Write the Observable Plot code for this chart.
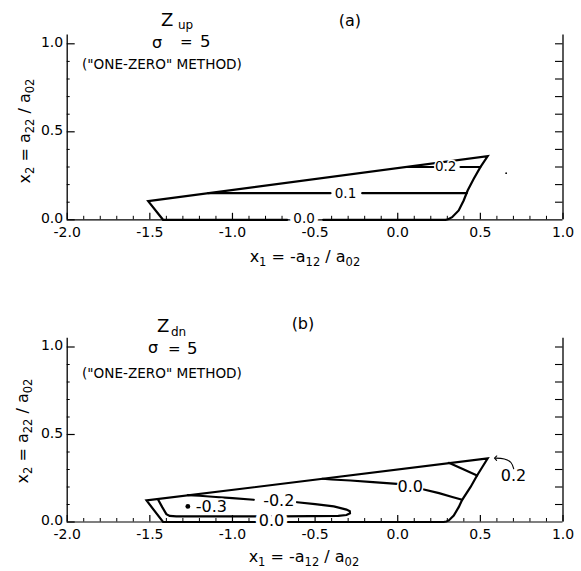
<!DOCTYPE html>
<html><head><meta charset="utf-8">
<script src="https://cdn.jsdelivr.net/npm/d3@7"></script>
<script src="https://cdn.jsdelivr.net/npm/@observablehq/plot@0.6"></script>
<style>
body{margin:0;background:#fff;}
#wrap{position:relative;width:581px;height:571px;overflow:hidden;background:#fff;}
#wrap svg{position:absolute;left:0;overflow:visible;}
</style></head><body><div id="wrap"></div>
<script>
// ---------- axis tick values ----------
const xTickLabels = [-2.0, -1.5, -1.0, -0.5, 0.0, 0.5, 1.0];
const xMinorTicks = [-1.9,-1.8,-1.7,-1.6,-1.4,-1.3,-1.2,-1.1,-0.9,-0.8,-0.7,-0.6,-0.4,-0.3,-0.2,-0.1,0.1,0.2,0.3,0.4,0.6,0.7,0.8,0.9];
const yTickLabels = [0.0, 0.5, 1.0];
const yLeftMinor = [0.1,0.2,0.3,0.4,0.6,0.7,0.8,0.9];
const yRightTicks = [0.1,0.2,0.3,0.4,0.5,0.6,0.7,0.8,0.9,1.0];

// ---------- panel (a): Z_up ----------
const outerA = [[-0.451,0],[0.289,0],[0.305,0.003],[0.329,0.015],[0.369,0.053],[0.399,0.110],[0.423,0.166],[0.460,0.233],[0.500,0.299],[0.544,0.361],[-1.51,0.106],[-1.42,0],[-0.669,0]];
const contourA_01_left = [[-1.147,0.151],[-0.407,0.151]];
const contourA_01_right = [[-0.215,0.151],[0.417,0.151]];
const contourA_02_left = [[0.053,0.300],[0.216,0.300]];
const contourA_02_right = [[0.380,0.300],[0.500,0.300]];
const labelsA = [
  {x:-0.567, y:0.000, text:"0.0"},
  {x:-0.316, y:0.151, text:"0.1"},
  {x: 0.290, y:0.300, text:"0.2"}
];
const specksA = [[0.656,0.265]];

// ---------- panel (b): Z_dn ----------
const outerB = [[-0.68,0],[0.278,0],[0.295,0.003],[0.309,0.009],[0.339,0.037],[0.369,0.085],[0.390,0.127],[0.440,0.199],[0.480,0.266],[0.544,0.363],[-1.52,0.123],[-1.42,0],[-0.86,0]];
const contourB_m02_loop = [[-1.452,0.131],[-1.425,0.085],[-1.40,0.045],[-1.38,0.035],[-1.34,0.032],[-0.70,0.032],[-0.36,0.035],[-0.31,0.040],[-0.289,0.050],[-0.29,0.062],[-0.31,0.071],[-0.387,0.089],[-0.50,0.102],[-0.609,0.113]];
const contourB_m02_upper = [[-0.871,0.127],[-1.0,0.136],[-1.1,0.143],[-1.2,0.150],[-1.27,0.154]];
const contourB_00_left = [[-0.457,0.247],[-0.40,0.243],[-0.286,0.237],[-0.15,0.228],[-0.004,0.218]];
const contourB_00_right = [[0.158,0.186],[0.25,0.165],[0.33,0.143],[0.39,0.127]];
const contourB_02 = [[0.309,0.338],[0.40,0.300],[0.48,0.266]];
const arrowB = [[0.702,0.304],[0.685,0.340],[0.645,0.360],[0.592,0.365]];
const labelsB = [
  {x:-0.764, y:0.000, text:"0.0"},
  {x:-0.720, y:0.119, text:"-0.2"},
  {x:-1.128, y:0.089, text:"-0.3"},
  {x: 0.076, y:0.199, text:"0.0"},
  {x: 0.700, y:0.266, text:"0.2"}
];
const minimumB = [[-1.270,0.089]];

// ---------- layout / annotations ----------
const FONT = "DejaVu Sans";
const fmt = d => (d < 0 ? "-" : "") + Math.abs(d).toFixed(1);

const panels = [
  {
    top: 0, height: 290, marginTop: 34.5, marginBottom: 70.7,
    lines: [outerA, contourA_01_left, contourA_01_right, contourA_02_left, contourA_02_right],
    labels: labelsA, labelSize: 13.5, dots: specksA, dotR: 0.9, arrow: null,
    notes: [
      {x:-1.4295, y:1.0983, parts:[["Z"]], size:18},
      {x:-1.3267, y:1.0813, parts:[["up"]], size:12},
      {x:-0.2862, y:1.1011, parts:[["(a)"]], size:16, anchor:"middle"},
      {x:-1.484, y:0.9733, parts:[["σ"]], size:16},
      {x:-1.3146, y:0.9790, parts:[["="]], size:15},
      {x:-1.1936, y:0.9790, parts:[["5"]], size:16.5},
      {x:-1.9074, y:0.8540, parts:[["(\"ONE-ZERO\" METHOD)"]], size:13.6},
      {x:-2.222, y:0.5017, rotate:true, anchor:"middle", size:16, parts:[["x"],["2",1],[" = a"],["22",1],[" / a"],["02",1]]},
      {x:-0.5584, y:-0.2426, anchor:"middle", size:16, parts:[["x"],["1",1],[" = -a"],["12",1],[" / a"],["02",1]]}
    ]
  },
  {
    top: 295, height: 276, marginTop: 42.75, marginBottom: 49.5,
    lines: [outerB, contourB_m02_loop, contourB_m02_upper, contourB_00_left, contourB_00_right, contourB_02],
    labels: labelsB, labelSize: 16, dots: minimumB, dotR: 2.4, arrow: arrowB,
    notes: [
      {x:-1.4537, y:1.0829, parts:[["Z"]], size:18},
      {x:-1.369, y:1.0600, parts:[["dn"]], size:12},
      {x:-0.5705, y:1.100, parts:[["(b)"]], size:16, anchor:"middle"},
      {x:-1.5082, y:0.9629, parts:[["σ"]], size:16},
      {x:-1.3872, y:0.9571, parts:[["="]], size:15},
      {x:-1.2722, y:0.9571, parts:[["5"]], size:16.5},
      {x:-1.9074, y:0.820, parts:[["(\"ONE-ZERO\" METHOD)"]], size:13.6},
      {x:-2.234, y:0.5171, rotate:true, anchor:"middle", size:16, parts:[["x"],["2",1],[" = a"],["22",1],[" / a"],["02",1]]},
      {x:-0.5644, y:-0.2314, anchor:"middle", size:16, parts:[["x"],["1",1],[" = -a"],["12",1],[" / a"],["02",1]]}
    ]
  }
];

const ML = 66.7, MR = 18.5, WIDTH = 581;
const wrap = document.getElementById("wrap");

for (const p of panels) {
  const H = p.height - p.marginTop - p.marginBottom;
  const W = WIDTH - ML - MR;
  const marks = [
    Plot.ruleX([-2, 1], {strokeWidth: 1.3}),
    Plot.ruleY([0], {strokeWidth: 1.2}),
    Plot.tickX(xMinorTicks, {x: d => d, insetTop: H - 3.5, strokeWidth: 1}),
    Plot.tickX(xTickLabels, {x: d => d, insetTop: H - 6.5, strokeWidth: 1.2}),
    Plot.tickY(yRightTicks, {y: d => d, insetLeft: W - 7.5, strokeWidth: 1.1}),
    Plot.tickY(yLeftMinor, {y: d => d, insetRight: W - 3, strokeWidth: 1}),
    Plot.tickY(yTickLabels, {y: d => d, insetRight: W - 8, strokeWidth: 1.2}),
    Plot.axisX({ticks: xTickLabels, tickSize: 0, tickPadding: 7, tickFormat: fmt, fontSize: 14, label: null}),
    Plot.axisY({ticks: yTickLabels, tickSize: 0, tickPadding: 4, dy: -1, tickFormat: fmt, fontSize: 14, label: null}),
    ...p.lines.map(l => Plot.line(l, {x: d => d[0], y: d => d[1], strokeWidth: 2.2, strokeLinejoin: "miter", strokeMiterlimit: 10})),
    Plot.text(p.labels, {filter: d => d.y === 0, x: "x", y: "y", dy: -1, text: "text", fontSize: p.labelSize, fill: "black", stroke: "white", strokeWidth: 8}),
    Plot.text(p.labels, {filter: d => d.y !== 0, x: "x", y: "y", text: "text", fontSize: p.labelSize, fill: "black", stroke: "white", strokeWidth: 3}),
    Plot.dot(p.dots, {x: d => d[0], y: d => d[1], r: p.dotR, fill: "black", stroke: null})
  ];
  if (p.arrow) marks.push(Plot.line(p.arrow, {x: d => d[0], y: d => d[1], curve: "natural", strokeWidth: 1.1, markerEnd: "arrow"}));

  const chart = Plot.plot({
    width: WIDTH, height: p.height,
    marginLeft: ML, marginRight: MR, marginTop: p.marginTop, marginBottom: p.marginBottom,
    x: {domain: [-2, 1]},
    y: {domain: [0, 1.05]},
    style: {fontFamily: FONT, fontSize: "14px", color: "black", background: "transparent", overflow: "visible"},
    marks
  });
  chart.style.top = p.top + "px";
  wrap.appendChild(chart);

  const sx = chart.scale("x"), sy = chart.scale("y");
  const svg = d3.select(chart);
  for (const n of p.notes) {
    const px = sx.apply(n.x), py = sy.apply(n.y);
    const t = svg.append("text")
      .attr("font-family", FONT)
      .attr("font-size", n.size)
      .attr("fill", "black")
      .attr("text-anchor", n.anchor || "start");
    if (n.rotate) t.attr("transform", `translate(${px},${py}) rotate(-90)`);
    else t.attr("x", px).attr("y", py);
    let shifted = false;
    for (const [s, sub] of n.parts) {
      const ts = t.append("tspan").text(s);
      if (sub && !shifted) { ts.attr("font-size", n.size * 0.72).attr("dy", "0.32em"); shifted = true; }
      else if (sub) { ts.attr("font-size", n.size * 0.72); }
      else if (!sub && shifted) { ts.attr("dy", (-0.32 * n.size * 0.72) + "px"); shifted = false; }
    }
  }
}
</script>
</body></html>
